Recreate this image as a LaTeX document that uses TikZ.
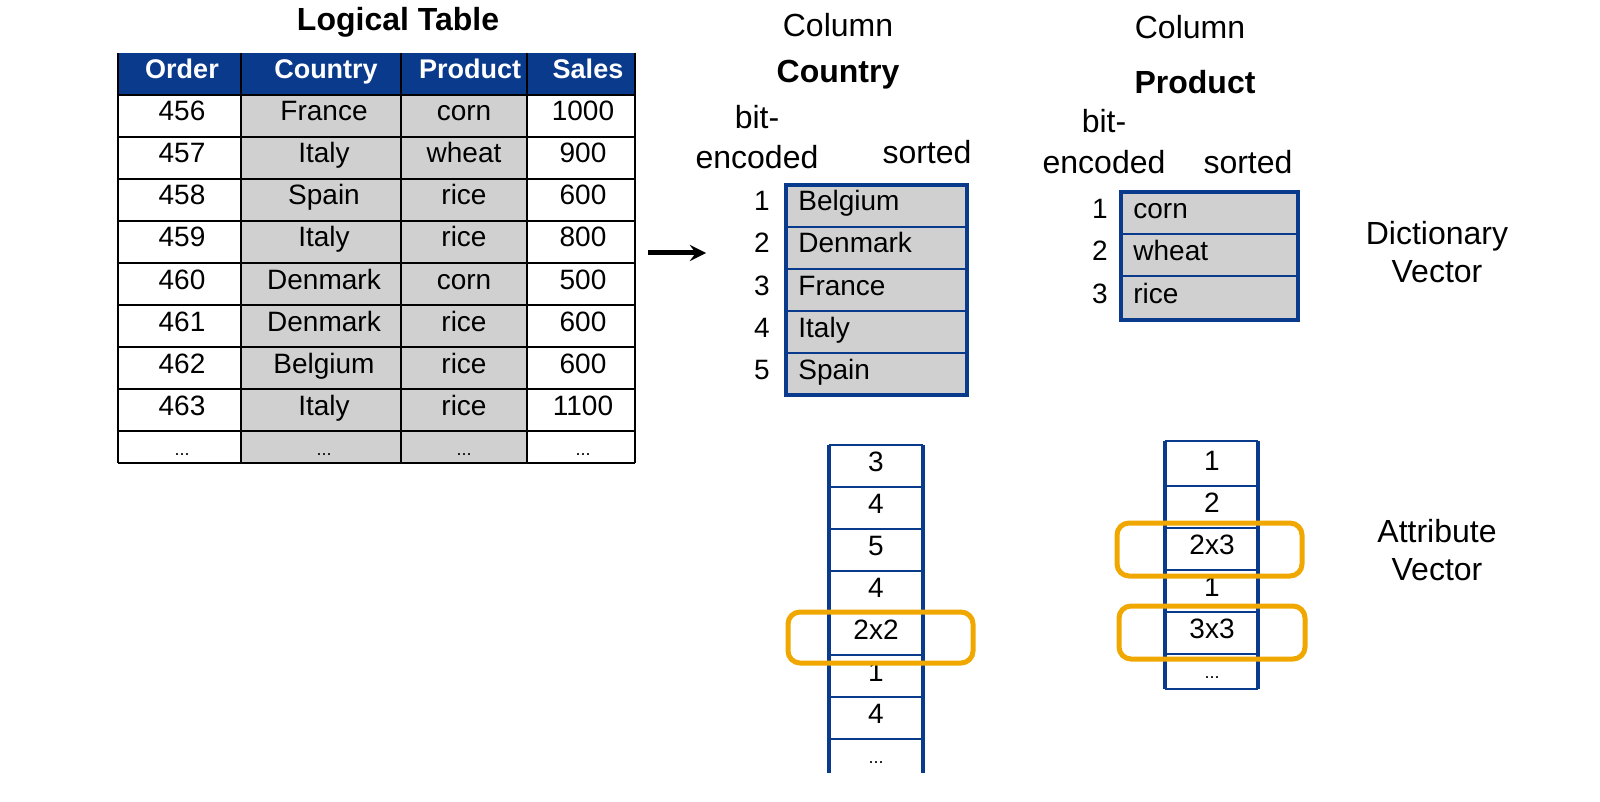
\documentclass[tikz,border=0pt]{standalone}
\usepackage{fontspec}
\setmainfont{Liberation Sans}
\definecolor{hdrblue}{HTML}{0A3A8C}
\definecolor{cellgray}{HTML}{D0D0D0}
\definecolor{mark}{HTML}{F0A800}
\tikzset{
  txt/.style={font=\fontsize{14}{16}\selectfont, inner sep=0pt, text height=10pt, text depth=5pt},
  big/.style={font=\fontsize{16}{19}\selectfont, inner sep=0pt, align=center},
  hdr/.style={font=\fontsize{13.5}{16}\selectfont\bfseries, text=white, inner sep=0pt, text height=10pt, text depth=5pt},
  outer/.style={draw=hdrblue, line width=1.6pt},
  inner/.style={draw=hdrblue, line width=0.6pt},
  hilite/.style={draw=mark, line width=2.5pt, rounded corners=6pt},
}
\begin{document}
\begin{tikzpicture}[x=0.5pt, y=-0.5pt]
\useasboundingbox (0,0) rectangle (1600,802);

% -------- logical table -----------
\node[big, font=\fontsize{16}{19}\selectfont\bfseries] (title) at (398,22) {Logical Table};
\fill[hdrblue] (118,53) rectangle (635,95);
\fill[cellgray] (241,95) rectangle (527,463);
\foreach \y in {95,137,...,431} \draw[line width=0.8pt] (118,\y) -- (635,\y);
\draw[line width=1.2pt] (118,463) -- (635,463);
\foreach \x in {118,241,401,527,635} \draw[line width=0.8pt] (\x,53) -- (\x,463);
\node[hdr] (hOrder) at (182,74) {Order};
\node[hdr] (hCountry) at (326,74) {Country};
\node[hdr] (hProduct) at (470,74) {Product};
\node[hdr] (hSales) at (588,74) {Sales};
\foreach \o/\c/\p/\s [count=\i] in {456/France/corn/1000, 457/Italy/wheat/900,
    458/Spain/rice/600, 459/Italy/rice/800, 460/Denmark/corn/500,
    461/Denmark/rice/600, 462/Belgium/rice/600, 463/Italy/rice/1100}{
  \pgfmathsetmacro{\yy}{74+42*\i}
  \node[txt] (o\i) at (182,\yy) {\o};
  \node[txt] (c\i) at (324,\yy) {\c};
  \node[txt] (p\i) at (464,\yy) {\p};
  \node[txt] (s\i) at (583,\yy) {\s};
}
\foreach \x/\n in {182/o,324/c,464/p,583/s}
  \node[txt, font=\fontsize{9}{10}\selectfont] (\n dots) at (\x,450) {...};

\coordinate (arrS) at (648,253);
\coordinate (arrE) at (706,253);
\draw[line width=2.5pt, -stealth] (arrS) -- (arrE);

% -------- column Country -----------
\node[big] (colC) at (838,25) {Column};
\node[big, font=\fontsize{16}{19}\selectfont\bfseries] (nameC) at (838,75) {Country};
\node[big] (bitC) at (757,117) {bit-};
\node[big] (encC) at (757,157) {encoded};
\node[big] (sortC) at (927,152) {sorted};
\fill[cellgray] (786,185) rectangle (967,395);
\foreach \y in {227,269,311,353} \draw[inner] (786,\y) -- (967,\y);
\draw[outer] (786,185) rectangle (967,395);
\foreach \v [count=\i] in {Belgium,Denmark,France,Italy,Spain}{
  \pgfmathsetmacro{\yy}{206+42*(\i-1)}
  \node[txt] (dn\i) at (762,\yy) {\i};
  \node[txt, anchor=west] (dc\i) at (798,\yy) {\v};
}
\foreach \y in {487,529,...,739} \draw[inner] (829,\y) -- (923,\y);
\draw[inner] (829,445) -- (923,445);
\draw[outer] (829,445) -- (829,773) (923,445) -- (923,773);
\foreach \v [count=\i] in {3,4,5,4,2x2,1,4}{
  \pgfmathsetmacro{\yy}{466+42*(\i-1)}
  \node[txt] (ac\i) at (876,\yy) {\v};
}
\node[txt, font=\fontsize{9}{10}\selectfont] (acdots) at (876,758) {...};
\draw[hilite] (788,612) rectangle (973,663);

% -------- column Product -----------
\node[big] (colP) at (1190,27) {Column};
\node[big, font=\fontsize{16}{19}\selectfont\bfseries] (nameP) at (1195,82) {Product};
\node[big] (bitP) at (1104,121) {bit-};
\node[big] (encP) at (1104,162) {encoded};
\node[big] (sortP) at (1248,162) {sorted};
\fill[cellgray] (1121,192) rectangle (1298,320);
\foreach \y in {234,276} \draw[inner] (1121,\y) -- (1298,\y);
\draw[outer] (1121,192) rectangle (1298,320);
\foreach \v [count=\i] in {corn,wheat,rice}{
  \pgfmathsetmacro{\yy}{214+42*(\i-1)}
  \node[txt] (pn\i) at (1100,\yy) {\i};
  \node[txt, anchor=west] (dp\i) at (1133,\yy) {\v};
}
\foreach \y in {486,528,...,654} \draw[inner] (1165,\y) -- (1258,\y);
\draw[inner] (1165,441) -- (1258,441);
\draw[outer] (1165,441) -- (1165,689) (1258,441) -- (1258,689);
\draw[inner] (1165,689) -- (1258,689);
\foreach \v [count=\i] in {1,2,2x3,1,3x3}{
  \pgfmathsetmacro{\yy}{465+42*(\i-1)}
  \node[txt] (ap\i) at (1212,\yy) {\v};
}
\node[txt, font=\fontsize{9}{10}\selectfont] (apdots) at (1212,673) {...};
\draw[hilite] (1117,523) rectangle (1302,576);
\draw[hilite] (1119,606) rectangle (1305,659);

% -------- side labels -----------
\node[big] (dictL) at (1437,252) {Dictionary\\Vector};
\node[big] (attrL) at (1437,550) {Attribute\\Vector};
\end{tikzpicture}
\end{document}
